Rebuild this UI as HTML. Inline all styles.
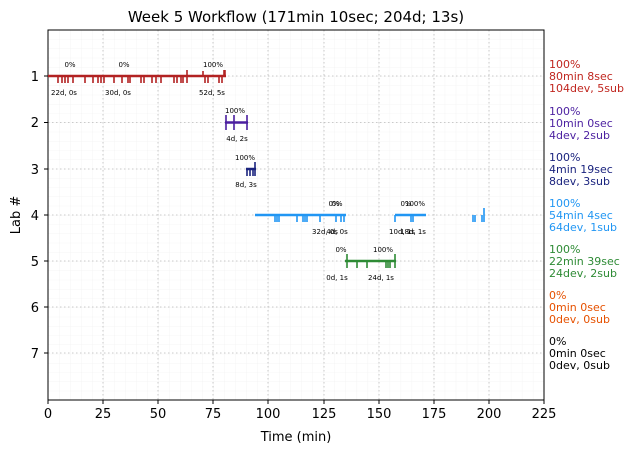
<!DOCTYPE html><html><head><style>body{margin:0;background:#fff}</style></head><body>
<svg width="634" height="453" xmlns="http://www.w3.org/2000/svg" font-family="DejaVu Sans, Liberation Sans, sans-serif">
<defs><pattern id="mg" x="48" y="30" width="11.02" height="9.25" patternUnits="userSpaceOnUse"><path d="M0 0V9.25M0 0H11.02" stroke="#eee" stroke-width="0.6" fill="none"/></pattern></defs>
<rect x="48" y="30" width="496" height="370" fill="url(#mg)"/>
<g stroke="#bbb" stroke-width="0.8" stroke-dasharray="1.5,2.5">
<path d="M103 30V400M158 30V400M213 30V400M268 30V400M324 30V400M379 30V400M434 30V400M489 30V400"/>
<path d="M48 76H544M48 122.5H544M48 169H544M48 215H544M48 261H544M48 307H544M48 353H544"/>
</g>
<rect x="48" y="30" width="496" height="370" fill="none" stroke="#000" stroke-width="1"/>
<text x="296" y="22" font-size="15" text-anchor="middle">Week 5 Workflow (171min 10sec; 204d; 13s)</text>
<g font-size="13" text-anchor="end"><text x="39" y="81">1</text><text x="39" y="127">2</text><text x="39" y="174">3</text><text x="39" y="220">4</text><text x="39" y="266">5</text><text x="39" y="312">6</text><text x="39" y="358">7</text></g>
<text transform="translate(20,215) rotate(-90)" font-size="13" text-anchor="middle">Lab #</text>
<g font-size="13" text-anchor="middle"><text x="48" y="418">0</text><text x="103" y="418">25</text><text x="158" y="418">50</text><text x="213" y="418">75</text><text x="268" y="418">100</text><text x="324" y="418">125</text><text x="379" y="418">150</text><text x="434" y="418">175</text><text x="489" y="418">200</text><text x="544" y="418">225</text></g>
<g stroke="#000"><path d="M48 400v4M103 400v4M158 400v4M213 400v4M268 400v4M324 400v4M379 400v4M434 400v4M489 400v4M544 400v4M48 76h-4M48 122.5h-4M48 169h-4M48 215h-4M48 261h-4M48 307h-4M48 353h-4"/></g>
<text x="296" y="441" font-size="13" text-anchor="middle">Time (min)</text>
<!-- red -->
<g stroke="#b22222" stroke-width="1.6"><path d="M48 76H226" stroke-width="2.5"/>
<path d="M58 76v7M62 76v7M65 76v7M68 76v7M73 76v7M85 76v7M93 76v7M98 76v7M101 76v7M104 76v7M114 76v7M122 76v7M128 76v7M130 76v7M141 76v7M144 76v7M152 76v7M156 76v7M161 76v7M174 76v7M177 76v7M181 76v7M183 76v7M187 76v7M187 76v-6M203 76v-5M205 76v7M208 76v7M219 76v7M222 76v7M224 76v-6M225 76v-6"/></g>
<g font-size="7" text-anchor="middle"><text x="70" y="67">0%</text><text x="124" y="67">0%</text><text x="213" y="67">100%</text><text x="64" y="95">22d, 0s</text><text x="118" y="95">30d, 0s</text><text x="212" y="95">52d, 5s</text>
<text x="235" y="113">100%</text><text x="237" y="141">4d, 2s</text>
<text x="245" y="160">100%</text><text x="246" y="187">8d, 3s</text>
<text x="334" y="206">0%</text><text x="337" y="206">0%</text><text x="325" y="234">32d, 0s</text><text x="337" y="234">4d, 0s</text>
<text x="406" y="206">0%</text><text x="415" y="206">100%</text><text x="402" y="234">10d, 1s</text><text x="413" y="234">18d, 1s</text>
<text x="341" y="252">0%</text><text x="383" y="252">100%</text><text x="337" y="280">0d, 1s</text><text x="381" y="280">24d, 1s</text></g>
<!-- purple -->
<g stroke="#4b1fa0" stroke-width="1.6"><path d="M225 122.5H248" stroke-width="2.5"/><path d="M226 115v15M234 115v15M247 115v15"/></g>
<!-- navy -->
<g stroke="#1a237e" stroke-width="1.6"><path d="M246 169H256" stroke-width="2.5"/><path d="M247 169v7M250 169v7M253 169v7M255 162v14"/></g>
<!-- blue -->
<g stroke="#2196f3" stroke-width="1.6"><path d="M255 215H346M395 215H426" stroke-width="2.5"/>
<path d="M275 215v7M277 215v7M279 215v7M297 215v7M303 215v7M305 215v7M307 215v7M320 215v7M336 215v7M341 215v7M344 215v7M395 215v7M411 215v7M413 215v7M473 215v7M475 215v7M482 215v7M484 208v14"/></g>
<!-- green -->
<g stroke="#2e8b35" stroke-width="1.6"><path d="M345 261H396" stroke-width="2.5"/><path d="M347 254v14M357 261v7M367 261v7M386 261v7M388 261v7M390 261v7M395 254v14"/></g>
<g font-size="11"><g fill="#c0261f"><text x="549" y="68">100%</text><text x="549" y="80">80min 8sec</text><text x="549" y="92">104dev, 5sub</text></g>
<g fill="#4b1fa0"><text x="549" y="115">100%</text><text x="549" y="127">10min 0sec</text><text x="549" y="139">4dev, 2sub</text></g>
<g fill="#1a237e"><text x="549" y="161">100%</text><text x="549" y="173">4min 19sec</text><text x="549" y="185">8dev, 3sub</text></g>
<g fill="#2196f3"><text x="549" y="207">100%</text><text x="549" y="219">54min 4sec</text><text x="549" y="231">64dev, 1sub</text></g>
<g fill="#2e8b35"><text x="549" y="253">100%</text><text x="549" y="265">22min 39sec</text><text x="549" y="277">24dev, 2sub</text></g>
<g fill="#e65100"><text x="549" y="299">0%</text><text x="549" y="311">0min 0sec</text><text x="549" y="323">0dev, 0sub</text></g>
<g fill="#000"><text x="549" y="345">0%</text><text x="549" y="357">0min 0sec</text><text x="549" y="369">0dev, 0sub</text></g></g>
</svg></body></html>
